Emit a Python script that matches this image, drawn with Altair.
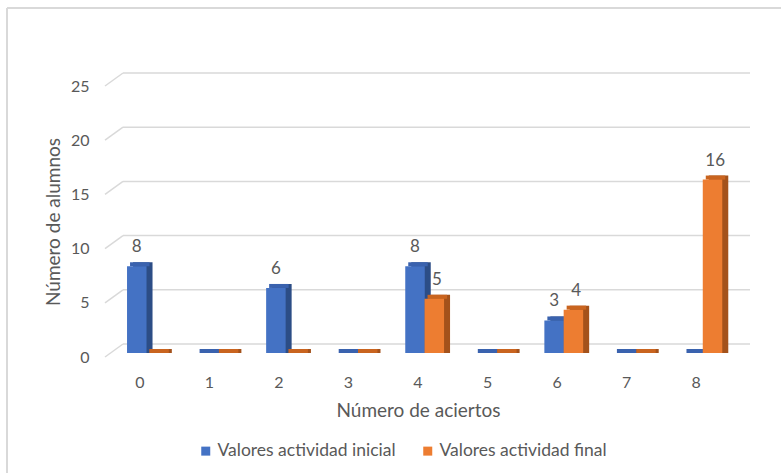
import altair as alt
import pandas as pd

categorias = ["0", "1", "2", "3", "4", "5", "6", "7", "8"]
inicial = [8, 0, 6, 0, 8, 0, 3, 0, 0]
final = [0, 0, 0, 0, 5, 0, 4, 0, 16]
series = ["Valores actividad inicial", "Valores actividad final"]
ticks_y = [0, 5, 10, 15, 20, 25]

front_colors = ["#4472C4", "#ED7D31"]
top_colors = ["#3A62AE", "#C9641F"]
side_colors = ["#2C4D86", "#A4521B"]
grid_color = "#D9D9D9"
text_color = "#595959"
FONT = "Lato"

rows = []
for c, a, b in zip(categorias, inicial, final):
    rows.append({"aciertos": c, "serie": series[0], "valor": a})
    rows.append({"aciertos": c, "serie": series[1], "valor": b})
df = pd.DataFrame(rows)
grid_df = pd.DataFrame({"v": ticks_y})

W, H = 626, 271
BW = 19.5
front_shift = [-3, 16.3]
label_shift = [-3, 19]
yscale = alt.Scale(domain=[0, 25], nice=False, zero=True)
xscale = alt.Scale(paddingInner=0, paddingOuter=0)

x_enc = alt.X(
    "aciertos:O",
    sort=categorias,
    scale=xscale,
    axis=alt.Axis(
        title="Número de aciertos",
        labelAngle=0,
        domain=False,
        ticks=False,
        grid=False,
        labelPadding=17,
        titlePadding=11,
        labelFontSize=16,
        titleFontSize=19,
        labelColor=text_color,
        titleColor=text_color,
        titleFontWeight="normal",
        labelFont=FONT,
        titleFont=FONT,
    ),
)
y_axis = alt.Axis(
    title="Número de alumnos",
    values=ticks_y,
    domain=False,
    ticks=False,
    grid=False,
    labelPadding=16,
    titlePadding=7,
    labelFontSize=16,
    titleFontSize=19,
    labelColor=text_color,
    titleColor=text_color,
    titleFontWeight="normal",
    labelFont=FONT,
    titleFont=FONT,
)

# chart frame (left and top edges)
frame_top = alt.Chart(grid_df).mark_rule(color=grid_color, strokeWidth=1.5).encode(
    x=alt.value(-98), x2=alt.value(700), y=alt.value(-78)
)
frame_left = alt.Chart(grid_df).mark_rule(color=grid_color, strokeWidth=1.5).encode(
    x=alt.value(-98), y=alt.value(-78), y2=alt.value(400)
)

# 3D back-wall gridlines
grid_back = alt.Chart(grid_df).mark_rule(color=grid_color, strokeWidth=1.5, yOffset=-13).encode(
    y=alt.Y("v:Q", scale=yscale, axis=y_axis),
    x=alt.value(18),
    x2=alt.value(645),
)
grid_diag = alt.Chart(grid_df).mark_rule(color=grid_color, strokeWidth=1.5, y2Offset=-13).encode(
    y=alt.Y("v:Q", scale=yscale),
    y2=alt.Y2("v:Q"),
    x=alt.value(0),
    x2=alt.value(18),
)

legend = alt.Legend(
    title=None,
    orient="none",
    legendX=92,
    legendY=356,
    direction="horizontal",
    symbolType="square",
    symbolSize=81,
    symbolStrokeWidth=0,
    labelFontSize=17.5,
    labelColor=text_color,
    labelFont=FONT,
    labelLimit=0,
    columnPadding=23,
    labelOffset=3,
    padding=0,
)

sides, tops, fronts, texts = [], [], [], []
for i, s in enumerate(series):
    b = alt.Chart(df).transform_filter(alt.datum.serie == s)
    fs = front_shift[i]
    sides.append(
        b.mark_bar(width=BW, xOffset=fs + 6, yOffset=-8, y2Offset=-4, color=side_colors[i]).encode(
            x=x_enc, y=alt.Y("valor:Q", scale=yscale), y2=alt.datum(0)
        )
    )
    tops.append(
        b.mark_bar(width=BW, xOffset=fs + 3, yOffset=-8, y2Offset=-4, color=top_colors[i]).encode(
            x=x_enc, y=alt.Y("valor:Q", scale=yscale), y2=alt.Y2("valor:Q")
        )
    )
    fronts.append(
        b.mark_bar(width=BW, xOffset=fs, yOffset=-4, y2Offset=-4).encode(
            x=x_enc,
            y=alt.Y("valor:Q", scale=yscale),
            y2=alt.datum(0),
            color=alt.Color("serie:N", sort=series, scale=alt.Scale(domain=series, range=front_colors), legend=legend),
        )
    )
    texts.append(
        b.transform_filter("datum.valor > 0").mark_text(
            dx=label_shift[i], dy=-23, baseline="middle", align="center", fontSize=17, color=text_color, font=FONT
        ).encode(
            x=x_enc,
            y=alt.Y("valor:Q", scale=yscale),
            text=alt.Text("valor:Q"),
        )
    )

chart = (
    alt.layer(frame_top, frame_left, grid_back, grid_diag, *sides, *tops, *fronts, *texts)
    .properties(
        width=W,
        height=H,
        autosize=alt.AutoSizeParams(type="none"),
        padding={"left": 105, "top": 86, "right": 50, "bottom": 116},
        background="white",
    )
    .configure(font=FONT)
    .configure_view(stroke=None, strokeWidth=0)
    .configure_axis(domain=False, grid=False, ticks=False)
)

chart.save("out.html", embed_options={"renderer": "svg", "actions": False})
